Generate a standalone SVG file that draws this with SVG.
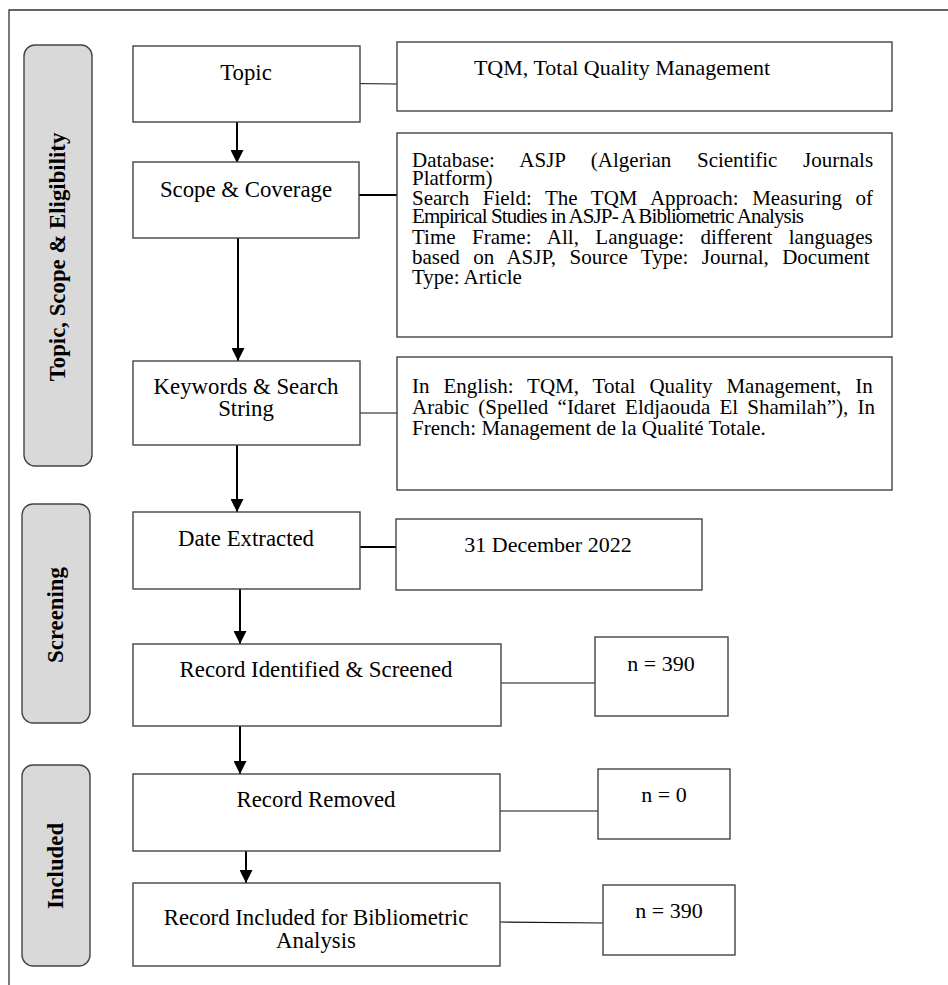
<svg xmlns="http://www.w3.org/2000/svg" width="948" height="985" viewBox="0 0 948 985">
<defs>
<style>
.frame{stroke:#333;stroke-width:1.3;fill:none}
.side{fill:#d9d9d9;stroke:#444;stroke-width:1.4}
.box{fill:#fff;stroke:#444;stroke-width:1.4}
.lab{font-family:"Liberation Serif","Times New Roman",serif;font-size:22.8px;fill:#000;text-anchor:middle}
.info{font-family:"Liberation Serif","Times New Roman",serif;font-size:22px;fill:#000;text-anchor:middle}
.body{font-family:"Liberation Serif","Times New Roman",serif;font-size:21px;fill:#000}
.side-t{font-family:"Liberation Serif","Times New Roman",serif;font-size:22.8px;font-weight:bold;fill:#000;text-anchor:middle}
.arrow{stroke:#000;stroke-width:2;fill:none;marker-end:url(#ah)}
.thin{stroke:#111;stroke-width:1.2;fill:none}
.thick{stroke:#000;stroke-width:2;fill:none}
</style>
<marker id="ah" markerUnits="userSpaceOnUse" markerWidth="13" markerHeight="13" refX="13" refY="6.5" orient="auto">
<path d="M0,0 L13,6.5 L0,13 z" fill="#000"/>
</marker>
</defs>
<rect width="948" height="985" fill="#fff"/>
<path class="frame" d="M9,985 L9,10 L948,10"/>

<g id="side-topic">
<rect class="side" x="24" y="45" width="68" height="421" rx="11"/>
<text class="side-t" transform="translate(65,257) rotate(-90)">Topic, Scope &amp; Eligibility</text>
</g>
<g id="side-screening">
<rect class="side" x="22" y="504" width="68" height="219" rx="11"/>
<text class="side-t" transform="translate(63,615) rotate(-90)">Screening</text>
</g>
<g id="side-included">
<rect class="side" x="22" y="765" width="68" height="201" rx="11"/>
<text class="side-t" transform="translate(63,866) rotate(-90)">Included</text>
</g>

<g id="connectors">
<line class="thin" x1="350" y1="83.5" x2="397" y2="84"/>
<line class="thick" x1="359" y1="195" x2="397" y2="195"/>
<line class="thin" x1="360" y1="413" x2="397" y2="413"/>
<line class="thick" x1="360" y1="547" x2="396" y2="547"/>
<line class="thin" x1="501" y1="683" x2="595" y2="683"/>
<line class="thin" x1="500" y1="811" x2="598" y2="811"/>
<line class="thin" x1="500" y1="922" x2="603" y2="923"/>
<line class="arrow" x1="237" y1="122" x2="237" y2="163"/>
<line class="arrow" x1="238" y1="238" x2="238" y2="361"/>
<line class="arrow" x1="237" y1="445" x2="237" y2="512"/>
<line class="arrow" x1="240" y1="589" x2="240" y2="644"/>
<line class="arrow" x1="240" y1="726" x2="240" y2="774"/>
<line class="arrow" x1="246" y1="851" x2="246" y2="883"/>
</g>

<g id="topic">
<rect class="box" x="133" y="46" width="227" height="76"/>
<text class="lab" x="246" y="80">Topic</text>
</g>
<g id="tqm">
<rect class="box" x="397" y="42" width="495" height="69"/>
<text class="info" x="622" y="75">TQM, Total Quality Management</text>
</g>
<g id="scope">
<rect class="box" x="133" y="162" width="226" height="76"/>
<text class="lab" x="246" y="197">Scope &amp; Coverage</text>
</g>
<g id="database">
<rect class="box" x="397" y="133" width="495" height="204"/>
<text class="body" x="412" y="167" word-spacing="20.4">Database: ASJP (Algerian Scientific Journals</text>
<text class="body" x="412" y="185">Platform)</text>
<text class="body" x="412" y="205" word-spacing="8.35">Search Field: The TQM Approach: Measuring of</text>
<text class="body" x="412" y="223" textLength="392" lengthAdjust="spacing">Empirical Studies in ASJP- A Bibliometric Analysis</text>
<text class="body" x="412" y="244" word-spacing="11.2">Time Frame: All, Language: different languages</text>
<text class="body" x="412" y="264" word-spacing="8.15">based on ASJP, Source Type: Journal, Document</text>
<text class="body" x="412" y="284">Type: Article</text>
</g>
<g id="keywords">
<rect class="box" x="133" y="361" width="227" height="84"/>
<text class="lab" x="246" y="394">Keywords &amp; Search</text>
<text class="lab" x="246" y="416">String</text>
</g>
<g id="languages">
<rect class="box" x="397" y="357" width="495" height="133"/>
<text class="body" x="412" y="393" word-spacing="8.73">In English: TQM, Total Quality Management, In</text>
<text class="body" x="412" y="414" word-spacing="3.97">Arabic (Spelled “Idaret Eldjaouda El Shamilah”), In</text>
<text class="body" x="412" y="435">French: Management de la Qualité Totale.</text>
</g>
<g id="date">
<rect class="box" x="133" y="512" width="227" height="77"/>
<text class="lab" x="246" y="546">Date Extracted</text>
</g>
<g id="date-value">
<rect class="box" x="396" y="519" width="306" height="71"/>
<text class="info" x="548" y="552">31 December 2022</text>
</g>
<g id="identified">
<rect class="box" x="133" y="644" width="368" height="82"/>
<text class="lab" x="316" y="677">Record Identified &amp; Screened</text>
</g>
<g id="n-identified">
<rect class="box" x="595" y="637" width="133" height="79"/>
<text class="info" x="661" y="671">n = 390</text>
</g>
<g id="removed">
<rect class="box" x="133" y="774" width="367" height="77"/>
<text class="lab" x="316" y="807">Record Removed</text>
</g>
<g id="n-removed">
<rect class="box" x="598" y="769" width="132" height="70"/>
<text class="info" x="664" y="802">n = 0</text>
</g>
<g id="included">
<rect class="box" x="133" y="883" width="367" height="83"/>
<text class="lab" x="316" y="925">Record Included for Bibliometric</text>
<text class="lab" x="316" y="948">Analysis</text>
</g>
<g id="n-included">
<rect class="box" x="603" y="885" width="132" height="70"/>
<text class="info" x="669" y="918">n = 390</text>
</g>
</svg>
